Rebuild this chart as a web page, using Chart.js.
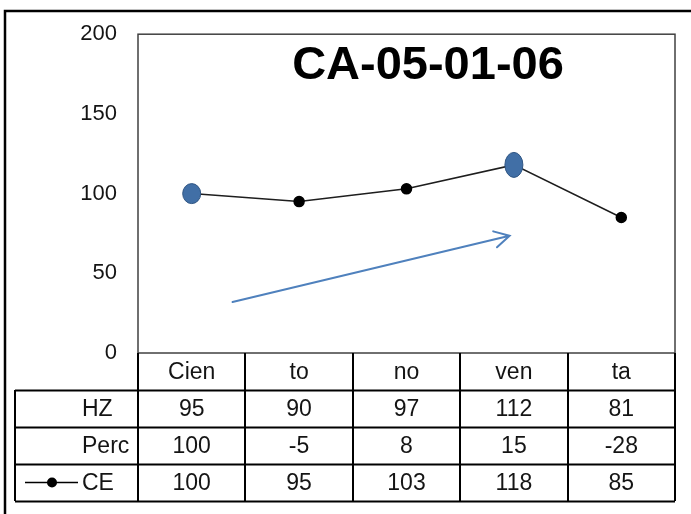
<!DOCTYPE html>
<html>
<head>
<meta charset="utf-8">
<script src="https://cdn.jsdelivr.net/npm/chart.js@4/dist/chart.umd.min.js"></script>
<style>
html,body{margin:0;padding:0;background:#fff;}
canvas{display:block;}
</style>
</head>
<body>
<canvas id="c" width="691" height="514"></canvas>
<script>
// ---- data ----
const categories = ["Cien", "to", "no", "ven", "ta"];
const rowHZ = [95, 90, 97, 112, 81];
const rowPerc = [100, -5, 8, 15, -28];
const seriesCE = [100, 95, 103, 118, 85];
const yTicks = [0, 50, 100, 150, 200];
const highlighted = [0, 3];
const chartTitle = "CA-05-01-06";
const tableRows = [
  { name: "HZ", values: rowHZ, key: false },
  { name: "Perc", values: rowPerc, key: false },
  { name: "CE", values: seriesCE, key: true }
];

const FONT = "'Liberation Sans', Arial, sans-serif";
const TXT = "#141414";

const framePlugin = {
  id: "frame",
  beforeDraw(chart) {
    const ctx = chart.ctx;
    ctx.save();
    ctx.fillStyle = "#fff";
    ctx.fillRect(0, 0, chart.width, chart.height);
    ctx.strokeStyle = "#000";
    ctx.lineWidth = 2.5;
    ctx.beginPath();
    ctx.moveTo(5, chart.height + 5);
    ctx.lineTo(5, 11);
    ctx.lineTo(chart.width + 5, 11);
    ctx.stroke();
    ctx.restore();
  },
  afterDraw(chart) {
    const ctx = chart.ctx;
    const a = chart.chartArea;
    const xs = chart.scales.x;
    const ys = chart.scales.y;
    ctx.save();
    // plot border
    ctx.strokeStyle = "#404040";
    ctx.lineWidth = 1.5;
    ctx.strokeRect(a.left, a.top, a.right - a.left, a.bottom - a.top);

    // arrow annotation (in data units)
    const x0 = xs.getPixelForValue(0.38), y0 = ys.getPixelForValue(32);
    const x1 = xs.getPixelForValue(2.96), y1 = ys.getPixelForValue(73.5);
    ctx.strokeStyle = "#4F81BD";
    ctx.lineWidth = 2;
    ctx.lineCap = "round";
    ctx.beginPath();
    ctx.moveTo(x0, y0);
    ctx.lineTo(x1, y1);
    const ang = Math.atan2(y1 - y0, x1 - x0);
    const hl = 17, hw = 0.5;
    ctx.moveTo(x1 - hl * Math.cos(ang - hw), y1 - hl * Math.sin(ang - hw));
    ctx.lineTo(x1, y1);
    ctx.lineTo(x1 - hl * Math.cos(ang + hw), y1 - hl * Math.sin(ang + hw));
    ctx.stroke();

    // title
    ctx.fillStyle = "#000";
    ctx.font = "bold 47px " + FONT;
    ctx.textAlign = "center";
    ctx.textBaseline = "middle";
    ctx.fillText(chartTitle, xs.getPixelForValue(2.2), 66);

    // data table
    const rowH = 37;
    const tableLeft = 15;
    const top = a.bottom;
    const nRows = tableRows.length + 1;
    ctx.strokeStyle = "#000";
    ctx.lineWidth = 2;
    ctx.lineCap = "butt";
    ctx.beginPath();
    for (let r = 1; r <= nRows; r++) {
      const y = Math.round(top + r * rowH) + 0.5;
      ctx.moveTo(tableLeft, y);
      ctx.lineTo(a.right, y);
    }
    for (let i = 0; i <= categories.length; i++) {
      const x = Math.round(xs.getPixelForValue(i - 0.5));
      ctx.moveTo(x, top);
      ctx.lineTo(x, top + nRows * rowH);
    }
    ctx.moveTo(tableLeft, top + rowH);
    ctx.lineTo(tableLeft, top + nRows * rowH);
    ctx.stroke();

    ctx.font = "23px " + FONT;
    ctx.fillStyle = TXT;
    ctx.textAlign = "center";
    ctx.textBaseline = "middle";
    categories.forEach((c, i) => {
      ctx.fillText(c, xs.getPixelForValue(i), top + rowH / 2 + 1);
    });
    tableRows.forEach((row, r) => {
      const cy = top + (r + 1) * rowH + rowH / 2 + 1;
      ctx.textAlign = "left";
      ctx.fillText(row.name, 82, cy);
      if (row.key) {
        ctx.save();
        ctx.strokeStyle = "#000";
        ctx.lineWidth = 1.5;
        ctx.beginPath();
        ctx.moveTo(25, cy - 1);
        ctx.lineTo(78, cy - 1);
        ctx.stroke();
        ctx.fillStyle = "#000";
        ctx.beginPath();
        ctx.arc(52, cy - 1, 5, 0, Math.PI * 2);
        ctx.fill();
        ctx.restore();
      }
      ctx.textAlign = "center";
      row.values.forEach((v, i) => {
        ctx.fillText(String(v), xs.getPixelForValue(i), cy);
      });
    });
    ctx.restore();
  },
  afterDatasetsDraw(chart) {
    const ctx = chart.ctx;
    const meta = chart.getDatasetMeta(0);
    ctx.save();
    highlighted.forEach((idx, k) => {
      const p = meta.data[idx];
      const rx = 9, ry = k === 0 ? 10 : 12.5;
      ctx.fillStyle = "#416FA6";
      ctx.strokeStyle = "#2f5583";
      ctx.lineWidth = 1;
      ctx.beginPath();
      ctx.ellipse(p.x, p.y, rx, ry, 0, 0, Math.PI * 2);
      ctx.fill();
      ctx.stroke();
    });
    ctx.restore();
  }
};

new Chart(document.getElementById("c"), {
  type: "line",
  data: {
    labels: categories,
    datasets: [{
      label: "CE",
      data: seriesCE,
      borderColor: "#1e1e1e",
      borderWidth: 1.5,
      pointBackgroundColor: "#000",
      pointBorderColor: "#000",
      pointRadius: 5,
      pointHoverRadius: 5,
      tension: 0,
      fill: false
    }]
  },
  options: {
    responsive: false,
    animation: false,
    devicePixelRatio: 1,
    layout: { padding: { left: 0, top: 31, right: 16, bottom: 161 } },
    plugins: { legend: { display: false }, tooltip: { enabled: false }, title: { display: false } },
    scales: {
      x: { display: false, offset: true },
      y: {
        min: 0, max: 200,
        afterBuildTicks(scale) { scale.ticks = yTicks.map(v => ({ value: v })); },
        afterFit(scale) { scale.width = 138; },
        grid: { display: false, drawTicks: false },
        border: { display: false },
        ticks: {
          padding: 21,
          color: TXT,
          font: { family: FONT, size: 22 }
        }
      }
    }
  },
  plugins: [framePlugin]
});
</script>
</body>
</html>
